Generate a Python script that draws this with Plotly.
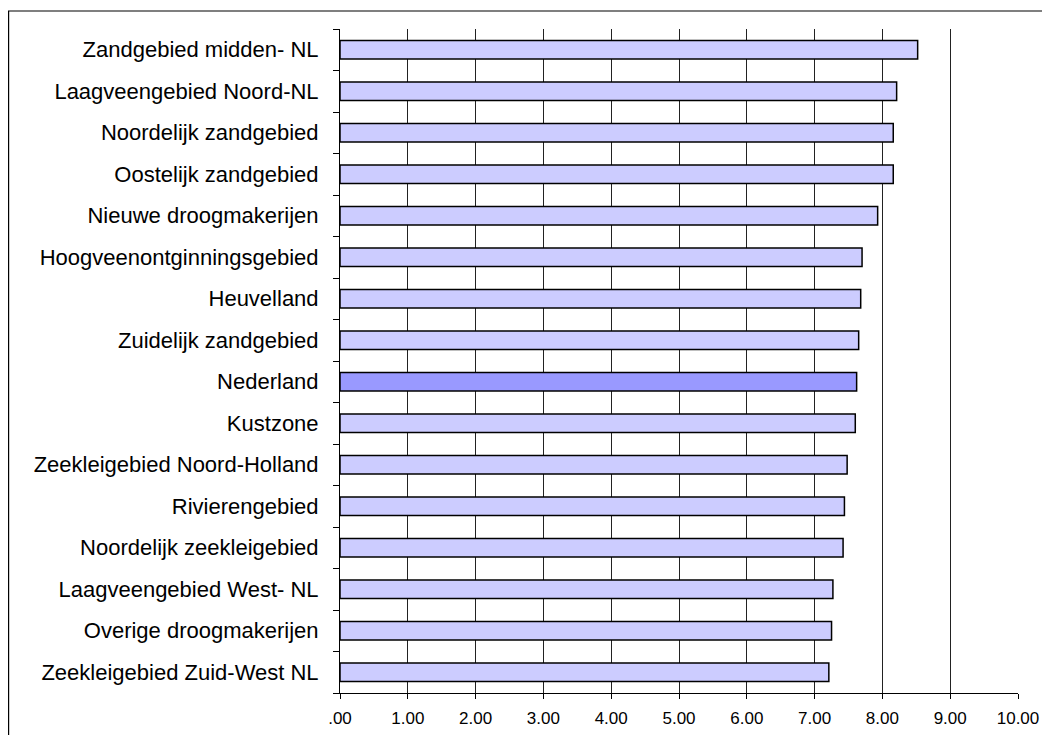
import plotly.graph_objects as go

categories = [
    "Zandgebied midden- NL",
    "Laagveengebied Noord-NL",
    "Noordelijk zandgebied",
    "Oostelijk zandgebied",
    "Nieuwe droogmakerijen",
    "Hoogveenontginningsgebied",
    "Heuvelland",
    "Zuidelijk zandgebied",
    "Nederland",
    "Kustzone",
    "Zeekleigebied Noord-Holland",
    "Rivierengebied",
    "Noordelijk zeekleigebied",
    "Laagveengebied West- NL",
    "Overige droogmakerijen",
    "Zeekleigebied Zuid-West NL",
]
values = [8.52, 8.21, 8.16, 8.16, 7.93, 7.70, 7.68, 7.65, 7.62, 7.60,
          7.48, 7.44, 7.42, 7.27, 7.25, 7.21]
tick_vals = [0, 1, 2, 3, 4, 5, 6, 7, 8, 9, 10]
tick_text = [".00", "1.00", "2.00", "3.00", "4.00", "5.00", "6.00", "7.00",
             "8.00", "9.00", "10.00"]

colors = ["#9999FF" if c == "Nederland" else "#CCCCFF" for c in categories]

fig = go.Figure(go.Bar(
    x=values, y=categories, orientation="h",
    marker=dict(color=colors, line=dict(color="#000000", width=1.5)),
))

# page body has an 8px margin; figure sits at (8, 8) in the window
W, H = 1042, 727
L, R, T, B = 332, 32, 21, 42
pw, ph = W - L - R, H - T - B

def px_to_paper_x(px):
    return (px - L) / pw

def px_to_paper_y(py):
    return 1 - (py - T) / ph

fig.update_layout(
    width=W, height=H,
    margin=dict(l=L, r=R, t=T, b=B, autoexpand=False),
    paper_bgcolor="white", plot_bgcolor="white",
    bargap=0.56,
    showlegend=False,
    xaxis=dict(
        range=[0, 10], tickvals=tick_vals, ticktext=tick_text,
        showgrid=True, gridcolor="#222222", gridwidth=1,
        showline=True, linecolor="#000000", linewidth=1,
        ticks="outside", ticklen=5, tickcolor="#000000",
        ticklabelstandoff=5, automargin=False,
        tickfont=dict(family="Liberation Sans, Arial, sans-serif", size=17, color="#000000"),
        zeroline=False, fixedrange=True,
    ),
    yaxis=dict(
        categoryorder="array", categoryarray=categories[::-1],
        showline=True, linecolor="#000000", linewidth=1,
        ticks="outside", ticklen=6, tickcolor="#000000", tickson="boundaries",
        ticklabelstandoff=16, automargin=False,
        tickfont=dict(family="Liberation Sans, Arial, sans-serif",
                      size=22, color="#000000"),
        showgrid=False, fixedrange=True,
    ),
    shapes=[dict(
        type="rect", xref="paper", yref="paper",
        x0=px_to_paper_x(0.6), x1=px_to_paper_x(1060),
        y0=px_to_paper_y(745), y1=px_to_paper_y(3),
        line=dict(color="#000000", width=1.2), fillcolor="rgba(0,0,0,0)",
        layer="below",
    )],
)

fig.write_html("out.html")
